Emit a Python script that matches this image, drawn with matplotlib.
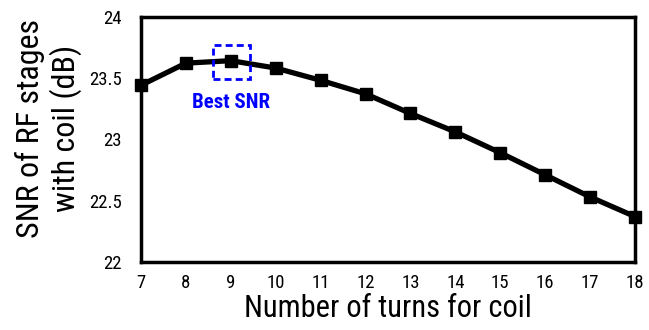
import matplotlib
matplotlib.use("Agg")
import matplotlib.pyplot as plt
from matplotlib.patches import Rectangle

plt.rcParams['font.family'] = ['Roboto Condensed', 'DejaVu Sans']

# data
turns = [7, 8, 9, 10, 11, 12, 13, 14, 15, 16, 17, 18]
snr = [23.44, 23.62, 23.64, 23.58, 23.48, 23.37, 23.21, 23.06, 22.89, 22.71, 22.53, 22.37]
best_turns = 9
best_snr = 23.64

fig = plt.figure(figsize=(6.49, 3.30), dpi=100)
ax = fig.add_axes([141/649, 1 - 262/330, (635-141)/649, (262-16.5)/330])

ax.plot(turns, snr, color="black", lw=3.8, marker="s", ms=8.5, clip_on=False, zorder=3)

# dashed box around best point
ax.add_patch(Rectangle((best_turns - 0.4, best_snr - 0.15), 0.82, 0.28,
                       fill=False, edgecolor="blue", lw=2, ls=(0, (2.5, 1.5)), zorder=4))
ax.text(best_turns, best_snr - 0.34, "Best SNR", color="blue", fontsize=15,
        fontweight="bold", ha="center", va="center")

ax.set_xlim(7, 18)
ax.set_ylim(22, 24)
ax.set_xticks(turns)
ax.set_yticks([22, 22.5, 23, 23.5, 24])
ax.set_yticklabels(["22", "22.5", "23", "23.5", "24"])
ax.tick_params(length=0, labelsize=13.5)
ax.tick_params(axis="y", pad=14)
ax.tick_params(axis="x", pad=9)
for s in ax.spines.values():
    s.set_linewidth(2.5)

ax.set_xlabel("Number of turns for coil", fontsize=22, labelpad=1)
ax.set_ylabel("SNR of RF stages\nwith coil (dB)", fontsize=23, linespacing=1.15)
ax.yaxis.set_label_coords(-0.12, 0.545)

fig.savefig("out.png", dpi=100)
